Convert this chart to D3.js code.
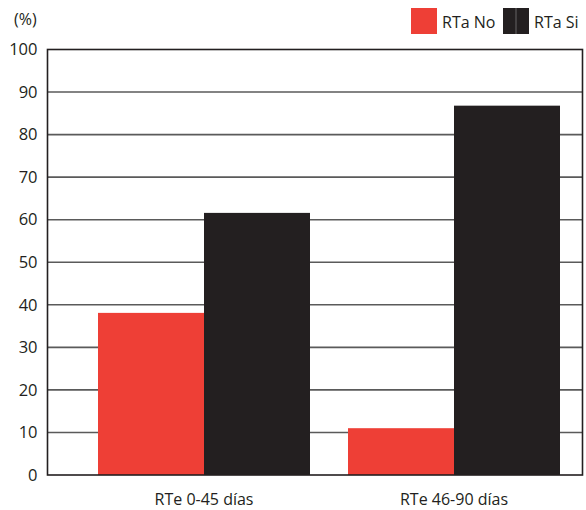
<!DOCTYPE html>
<html>
<head>
<meta charset="utf-8">
<script src="https://cdn.jsdelivr.net/npm/d3@7"></script>
<style>
  body { margin: 0; background: #fff; }
  text { font-family: "Open Sans", "Noto Sans", sans-serif; fill: #231f20; }
</style>
</head>
<body>
<script>
// Data
var categories = ["RTe 0-45 días", "RTe 46-90 días"];
var seriesNames = ["RTa No", "RTa Si"];
var rtaNo = [38.1, 11];
var rtaSi = [61.6, 86.8];
var yTicks = [0, 10, 20, 30, 40, 50, 60, 70, 80, 90, 100];
var colours = ["#ee3f36", "#231f20"];

var width = 586, height = 510;
var plotLeft = 47.5, plotRight = 582.5, plotTop = 49.5, plotBottom = 475;

var svg = d3.select("body").append("svg")
    .attr("width", width)
    .attr("height", height);

var y = d3.scaleLinear().domain([0, 100]).range([plotBottom, plotTop]);
var x0 = d3.scaleBand().domain(categories).range([98, 560]).paddingInner(0.152).paddingOuter(0);
var x1 = d3.scaleBand().domain(seriesNames).range([0, x0.bandwidth()]);

// Grid lines
svg.append("g")
    .selectAll("line")
    .data(yTicks.filter(function (t) { return t > 0 && t < 100; }))
    .enter().append("line")
    .attr("x1", plotLeft).attr("x2", plotRight)
    .attr("y1", function (t) { return y(t); })
    .attr("y2", function (t) { return y(t); })
    .attr("stroke", "#5a5a5a")
    .attr("stroke-width", 1.6);

// Bars
var rows = categories.map(function (c, i) {
    return { cat: c, values: [rtaNo[i], rtaSi[i]] };
});
var groups = svg.append("g").selectAll("g")
    .data(rows)
    .enter().append("g")
    .attr("transform", function (d) { return "translate(" + x0(d.cat) + ",0)"; });
groups.selectAll("rect")
    .data(function (d) { return d.values.map(function (v, j) { return { s: seriesNames[j], v: v, j: j }; }); })
    .enter().append("rect")
    .attr("x", function (d) { return x1(d.s); })
    .attr("width", x1.bandwidth())
    .attr("y", function (d) { return y(d.v); })
    .attr("height", function (d) { return plotBottom - y(d.v); })
    .attr("fill", function (d) { return colours[d.j]; });

// Frame
svg.append("rect")
    .attr("x", plotLeft).attr("y", plotTop)
    .attr("width", plotRight - plotLeft).attr("height", plotBottom - plotTop)
    .attr("fill", "none")
    .attr("stroke", "#231f20")
    .attr("stroke-width", 1.6);

// Y axis labels
var yAxis = d3.axisLeft(y).tickValues(yTicks).tickSize(0).tickPadding(10);
var gy = svg.append("g")
    .attr("transform", "translate(" + plotLeft + ",0)")
    .call(yAxis);
gy.select(".domain").remove();
gy.selectAll("text")
    .attr("font-size", 16.5)
    .attr("font-family", "'Open Sans', sans-serif")
    .attr("fill", "#231f20");

// X axis labels
var xAxis = d3.axisBottom(x0).tickSize(0).tickPadding(19);
var gx = svg.append("g")
    .attr("transform", "translate(0," + plotBottom + ")")
    .call(xAxis);
gx.select(".domain").remove();
gx.selectAll("text")
    .attr("font-size", 16)
    .attr("font-family", "'Open Sans', sans-serif")
    .attr("fill", "#231f20");

// Unit label
svg.append("text")
    .attr("x", 14).attr("y", 25)
    .attr("font-size", 16)
    .text("(%)");

// Legend
var legendX = [411, 503];
var legend = svg.append("g").selectAll("g")
    .data(seriesNames)
    .enter().append("g")
    .attr("transform", function (d, i) { return "translate(" + legendX[i] + ",8)"; });
legend.append("rect")
    .attr("width", 26).attr("height", 26)
    .attr("fill", function (d, i) { return colours[i]; });
legend.filter(function (d, i) { return i === 1; })
    .append("line")
    .attr("x1", 13).attr("x2", 13).attr("y1", 0).attr("y2", 26)
    .attr("stroke", "#777").attr("stroke-width", 0.8);
legend.append("text")
    .attr("x", 31).attr("y", 20)
    .attr("font-size", 16)
    .text(function (d) { return d; });
</script>
</body>
</html>
